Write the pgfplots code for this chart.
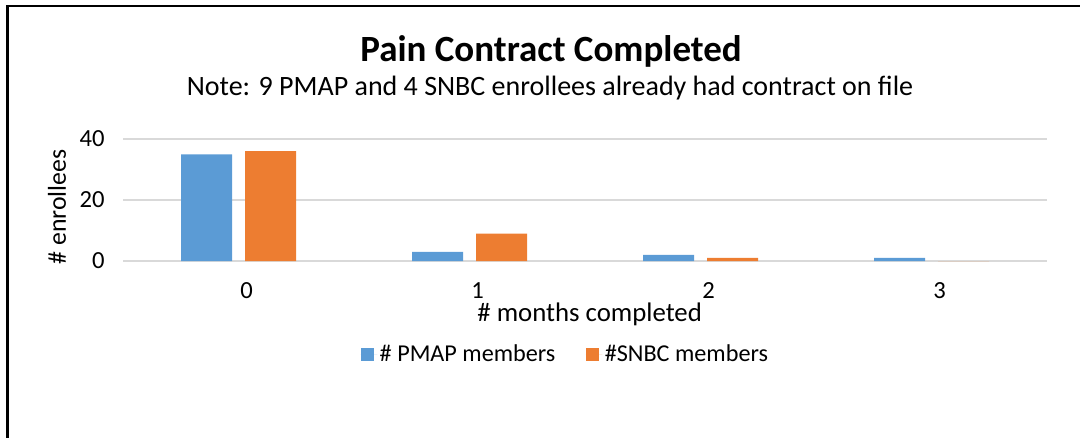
\documentclass[border=0pt]{standalone}
\usepackage{pgfplots}
\pgfplotsset{compat=1.18}
\usepackage{fontspec}
\setmainfont{Carlito}
\definecolor{pblue}{HTML}{5B9BD5}
\definecolor{porange}{HTML}{ED7D31}
\definecolor{gridgray}{HTML}{D9D9D9}
\begin{document}
\begin{tikzpicture}
\path[use as bounding box] (0pt,0pt) rectangle (540pt,-219pt);
\fill[black] (3.1pt,-2.35pt) rectangle (4.4pt,-219pt);
\fill[black] (3.1pt,-2.45pt) rectangle (540pt,-3.55pt);
\node[font=\fontsize{18.5}{21}\selectfont\bfseries, anchor=base] at (275.5pt,-30.8pt) {Pain Contract Completed};
\node[font=\fontsize{14}{16}\selectfont, anchor=base] at (275pt,-48pt) {Note: 9 PMAP and 4 SNBC enrollees already had contract on file};
\begin{axis}[
  at={(61.5pt,-130.5pt)}, anchor=south west,
  scale only axis, width=462pt, height=61pt,
  ymin=0, ymax=40, ytick={0,20,40},
  xmin=-0.5, xmax=3.5, xtick={0,1,2,3}, xticklabels={0,1,2,3},
  /pgf/number format/assume math mode=true,
  ymajorgrids, grid style={gridgray, line width=0.75pt},
  axis line style={draw=none}, tick style={draw=none}, major tick length=0pt,
  ticklabel style={font=\fontsize{12.3}{14}\selectfont, inner sep=0pt},
  yticklabel style={anchor=east, xshift=-9pt},
  xticklabel style={anchor=north, yshift=-10.8pt, xshift=4pt},
  xlabel={\# months completed},
  xlabel style={font=\fontsize{13.4}{15}\selectfont, at={(axis description cs:0.505,0)}, anchor=base, yshift=-30.3pt, inner sep=0pt},
  ylabel={\# enrollees},
  ylabel style={font=\fontsize{12.9}{15}\selectfont, at={(axis description cs:-0.0714,0.443)}, anchor=center, rotate=0, inner sep=0pt},
  ybar=6.5pt, bar width=25.5pt,
  legend style={at={(axis description cs:0.479,-0.77)}, anchor=center, draw=none, legend columns=2,
    font=\fontsize{12.1}{14}\selectfont, nodes={inner sep=1.2pt},
    /tikz/every even column/.append style={column sep=14pt}},
  legend image code/.code={\fill[#1] (0pt,-3.25pt) rectangle (6.5pt,3.25pt); \path (0pt,0pt) -- (8.3pt,0pt);},
]
\addplot[fill=pblue, draw=none] coordinates {(0,35) (1,3) (2,2) (3,1)};
\addplot[fill=porange, draw=none] coordinates {(0,36) (1,9) (2,1) (3,0)};
\legend{\# PMAP members, \#SNBC members}
\end{axis}
\end{tikzpicture}
\end{document}
